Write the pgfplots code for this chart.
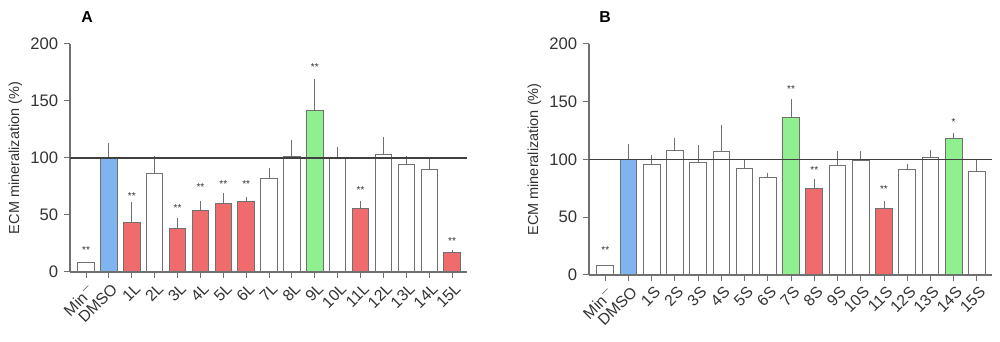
\documentclass[border=0pt]{standalone}
\usepackage{fontspec}
\setmainfont{Liberation Sans}
\usepackage{pgfplots}
\usepackage{pgfplotstable}
\pgfplotsset{compat=1.18}

\definecolor{barblue}{HTML}{80B4F0}
\definecolor{barred}{HTML}{F06C6C}
\definecolor{bargreen}{HTML}{90F090}
\definecolor{axgray}{HTML}{707070}
\definecolor{txtgray}{HTML}{333333}

% Panel A
\pgfplotstableread{
x y e
0 8 0
3 86 16
8 82 9
9 101 15
11 99.5 10
13 103 15
14 94.5 7
15 89.5 11
}\Awhite
\pgfplotstableread{
x y e
1 100 13
}\Ablue
\pgfplotstableread{
x y e
2 43 18
4 38 9
5 54 8
6 60 9
7 62 4
12 56 6
16 17.5 2
}\Ared
\pgfplotstableread{
x y e
10 142 27
}\Agreen
\pgfplotstableread{
x y s
0 19.6 **
2 66.6 **
4 55.7 **
5 74.5 **
6 76.8 **
7 76.8 **
10 180 **
12 71.6 **
16 27 **
}\Astars

% Panel B
\pgfplotstableread{
x y e
0 8 0
2 96 8
3 107.5 11
4 97.5 15
5 107 23
6 92.5 8
7 84.5 4
10 95 12
11 99.5 8
13 91 5
14 102 6
16 90 10
}\Bwhite
\pgfplotstableread{
x y e
1 100 13
}\Bblue
\pgfplotstableread{
x y e
9 75 8
12 58 6
}\Bred
\pgfplotstableread{
x y e
8 136 16
15 118 5
}\Bgreen
\pgfplotstableread{
x y s
0 21.8 **
8 160.8 **
9 91 **
12 74 **
15 132.8 *
}\Bstars

\pgfplotsset{
  panel/.style={
    scale only axis,
    anchor=south west,
    xmin=-0.7, xmax=16.65, ymin=0, ymax=200,
    axis x line*=bottom, axis y line*=left,
    axis line style={-, draw=axgray, line width=0.7pt},
    xtick={0,...,16}, ytick={0,50,100,150,200},
    tick align=outside, major tick length=3.6pt,
    tick style={draw=axgray, line width=0.6pt},
    /pgf/number format/assume math mode=true,
    yticklabel style={font=\fontsize{10}{12}\selectfont, text=txtgray},
    xticklabel style={rotate=45, anchor=east, font=\fontsize{9.5}{10}\selectfont, text=txtgray, inner sep=1pt, yshift=-6pt},
    ylabel={ECM mineralization (\%)},
    ylabel style={font=\fontsize{8.7}{10}\selectfont, text=txtgray, yshift=-2pt},
    clip=false,
  },
  bars/.style={ybar, bar width=0.72, bar shift=0pt, draw=axgray, line width=0.6pt,
    error bars/y dir=plus, error bars/y explicit, error bars/error mark=none,
    error bars/error bar style={draw=axgray, line width=0.6pt}},
  stars/.style={draw=none, mark=none, nodes near coords, point meta=explicit symbolic,
    every node near coord/.append style={anchor=center, font=\fontsize{6}{6}\selectfont, text=txtgray, inner sep=0pt}},
}

\begin{document}
\begin{tikzpicture}
\useasboundingbox (0,0) rectangle (600pt,205.2pt);

\begin{axis}[panel, at={(42pt,42pt)}, width=238.2pt, height=136.8pt,
  xticklabels={Min$^{-}$,DMSO,1L,2L,3L,4L,5L,6L,7L,8L,9L,10L,11L,12L,13L,14L,15L}]
  \addplot[bars, fill=white] table[x=x, y=y, y error=e] {\Awhite};
  \addplot[bars, fill=barblue] table[x=x, y=y, y error=e] {\Ablue};
  \addplot[bars, fill=barred] table[x=x, y=y, y error=e] {\Ared};
  \addplot[bars, fill=bargreen] table[x=x, y=y, y error=e] {\Agreen};
  \addplot[black!75, line width=0.8pt] coordinates {(-0.7,100) (16.65,100)};
  \addplot[stars] table[x=x, y=y, meta=s] {\Astars};
\end{axis}

\begin{axis}[panel, at={(353.4pt,40.2pt)}, width=241.8pt, height=138.6pt,
  xticklabels={Min$^{-}$,DMSO,1S,2S,3S,4S,5S,6S,7S,8S,9S,10S,11S,12S,13S,14S,15S}]
  \addplot[bars, fill=white] table[x=x, y=y, y error=e] {\Bwhite};
  \addplot[bars, fill=barblue] table[x=x, y=y, y error=e] {\Bblue};
  \addplot[bars, fill=barred] table[x=x, y=y, y error=e] {\Bred};
  \addplot[bars, fill=bargreen] table[x=x, y=y, y error=e] {\Bgreen};
  \addplot[black!75, line width=0.8pt] coordinates {(-0.7,100) (16.65,100)};
  \addplot[stars] table[x=x, y=y, meta=s] {\Bstars};
\end{axis}

\node[font=\bfseries\fontsize{9.5}{10}\selectfont, text=black] at (52.2pt,195pt) {A};
\node[font=\bfseries\fontsize{9.5}{10}\selectfont, text=black] at (363pt,195pt) {B};
\end{tikzpicture}
\end{document}
